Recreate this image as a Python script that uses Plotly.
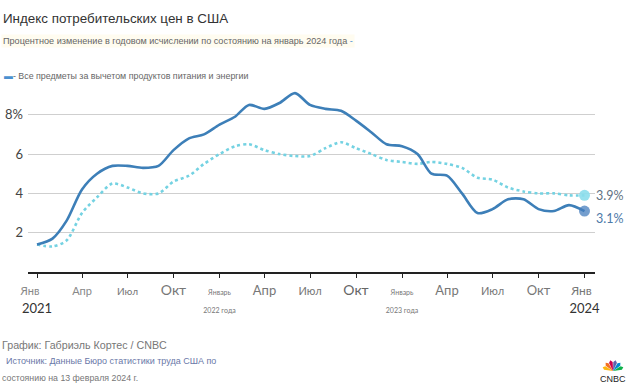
import plotly.graph_objects as go
import pandas as pd
import math

# ---- data ----
months = pd.date_range("2021-01-01", periods=37, freq="MS")
cpi_all = [1.4, 1.7, 2.6, 4.2, 5.0, 5.4, 5.4, 5.3, 5.4, 6.2, 6.8, 7.0,
           7.5, 7.9, 8.5, 8.3, 8.6, 9.1, 8.5, 8.3, 8.2, 7.7, 7.1, 6.5,
           6.4, 6.0, 5.0, 4.9, 4.0, 3.0, 3.2, 3.7, 3.7, 3.2, 3.1, 3.4, 3.1]
cpi_core = [1.4, 1.3, 1.6, 3.0, 3.8, 4.5, 4.3, 4.0, 4.0, 4.6, 4.9, 5.5,
            6.0, 6.4, 6.5, 6.2, 6.0, 5.9, 5.9, 6.3, 6.6, 6.3, 6.0, 5.7,
            5.6, 5.5, 5.6, 5.5, 5.3, 4.8, 4.7, 4.3, 4.1, 4.0, 4.0, 3.9, 3.9]
y_ticks = [2, 4, 6, 8]
y_ticktext = ["2", "4", "6", "8%"]
x_tickvals = pd.date_range("2021-01-01", "2024-01-01", freq="3MS")
NB = "\u00a0"
x_ticktext = [
    "<span style='color:#888;font-size:11px'>Янв" + NB * 5 + "</span><br><span style='font-size:13px;color:#333'>2021</span>",
    "<span style='color:#888;font-size:11px'>Апр</span>",
    "<span style='color:#777;font-size:10px'>Июл</span>",
    "<span style='color:#777;font-size:14px'>Окт</span>",
    "<span style='color:#777;font-size:7px'>Январь</span><br><span style='color:#777;font-size:7px'>2022 года</span>",
    "<span style='color:#777;font-size:13px'>Апр</span>",
    "<span style='color:#777;font-size:11px'>Июл</span>",
    "<span style='color:#666;font-size:14px'>Окт</span>",
    "<span style='color:#777;font-size:7px'>Январь</span><br><span style='color:#777;font-size:7px'>2023 года</span>",
    "<span style='color:#777;font-size:13px'>Апр</span>",
    "<span style='color:#777;font-size:11px'>Июл</span>",
    "<span style='color:#777;font-size:13px'>Окт</span>",
    "<span style='color:#777;font-size:12px'>Янв" + NB * 2 + "</span><br><span style='font-size:13px;color:#333'>2024</span>",
]

W, H = 640, 391
L, R, T, B = 28, 45, 90, 119
PW, PH = W - L - R, H - T - B


def px(x):
    return (x - L) / PW


def py(y):
    return (H - B - y) / PH


SOLID = "#3d7fb8"
DOT = "#74d2e2"

fig = go.Figure()
fig.add_trace(go.Scatter(x=months, y=cpi_core, mode="lines",
                         line=dict(color=DOT, width=2.6, dash="dot", shape="spline", smoothing=0.8),
                         showlegend=False, hoverinfo="skip"))
fig.add_trace(go.Scatter(x=months, y=cpi_all, mode="lines",
                         line=dict(color=SOLID, width=2.6, shape="spline", smoothing=0.8),
                         showlegend=False, hoverinfo="skip"))
fig.add_trace(go.Scatter(x=[months[-1]], y=[cpi_core[-1]], mode="markers",
                         marker=dict(color="rgba(140,222,236,0.9)", size=11),
                         showlegend=False, hoverinfo="skip"))
fig.add_trace(go.Scatter(x=[months[-1]], y=[cpi_all[-1]], mode="markers",
                         marker=dict(color="rgba(70,125,190,0.75)", size=11),
                         showlegend=False, hoverinfo="skip"))

annotations = [
    dict(text="Индекс потребительских цен в США", x=px(1), y=py(18), xanchor="left", yanchor="middle",
         font=dict(family="Liberation Sans, Arial", size=13.4, color="#333")),
    dict(text="Процентное изменение в годовом исчислении по состоянию на январь 2024 года <span style='color:#4a90d0'>-</span>",
         x=px(1), y=py(41), xanchor="left", yanchor="middle", bgcolor="#fffcf0",
         font=dict(family="Liberation Sans, Arial", size=9.1, color="#666")),
    dict(text="<span style='color:#4a90d0'>▬</span>- Все предметы за вычетом продуктов питания и энергии",
         x=px(2), y=py(76), xanchor="left", yanchor="middle",
         font=dict(family="Liberation Sans, Arial", size=8.9, color="#666")),
    dict(text="3.9%", x=months[-1], y=cpi_core[-1], xref="x", yref="y", xanchor="left", yanchor="middle",
         xshift=9, font=dict(family="Lato, Open Sans", size=12.5, color="#5f7283")),
    dict(text="3.1%", x=months[-1], y=cpi_all[-1], xref="x", yref="y", xanchor="left", yanchor="middle",
         xshift=9, yshift=-7, font=dict(family="Lato, Open Sans", size=12.5, color="#4d79a8")),
    dict(text="График: Габриэль Кортес / CNBC", x=px(0), y=py(345), xanchor="left", yanchor="middle",
         font=dict(family="Liberation Sans, Arial", size=10.7, color="#777")),
    dict(text="Источник: Данные Бюро статистики труда США по", x=px(4), y=py(361), xanchor="left", yanchor="middle",
         font=dict(family="Liberation Sans, Arial", size=9, color="#6a78a8")),
    dict(text="состоянию на 13 февраля 2024 г.", x=px(0), y=py(378), xanchor="left", yanchor="middle",
         font=dict(family="Liberation Sans, Arial", size=8.8, color="#777")),
    dict(text="CNBC", x=px(613), y=py(379), xanchor="center", yanchor="middle",
         font=dict(family="Liberation Sans, Arial", size=9, color="#222")),
]
for a in annotations:
    a.setdefault("xref", "paper")
    a.setdefault("yref", "paper")
    a["showarrow"] = False

# CNBC peacock (decoration)
shapes = []
cx, cy = 613, 371
petal_colors = ["#fcb711", "#f37021", "#cc004c", "#6460aa", "#0089d0", "#0db14b"]
for i, c in enumerate(petal_colors):
    ang = math.radians(160 - i * 28)
    tip = (cx + 11 * math.cos(ang), cy - 11 * math.sin(ang))
    pa = ang + math.radians(12)
    pb = ang - math.radians(12)
    l1 = (cx + 9 * math.cos(pa), cy - 9 * math.sin(pa))
    r1 = (cx + 9 * math.cos(pb), cy - 9 * math.sin(pb))
    path = "M {} {} L {} {} L {} {} L {} {} Z".format(
        px(cx), py(cy), px(l1[0]), py(l1[1]), px(tip[0]), py(tip[1]), px(r1[0]), py(r1[1]))
    shapes.append(dict(type="path", path=path, xref="paper", yref="paper",
                       fillcolor=c, line=dict(width=0)))

fig.update_layout(
    width=W, height=H,
    margin=dict(l=L, r=R, t=T, b=B, autoexpand=False),
    paper_bgcolor="white", plot_bgcolor="white",
    annotations=annotations, shapes=shapes,
    xaxis=dict(range=["2020-12-14", "2024-01-22"], tickvals=x_tickvals, ticktext=x_ticktext,
               showgrid=False, showline=True, linecolor="#222", linewidth=1.5,
               ticks="outside", ticklen=4, tickcolor="#222", tickwidth=1, automargin=False,
               tickfont=dict(family="Lato, Open Sans", size=14, color="#777"), zeroline=False),
    yaxis=dict(range=[0, 9.26], tickvals=y_ticks, ticktext=y_ticktext, showgrid=True,
               gridcolor="#cfcfcf", gridwidth=1, zeroline=False, showline=False, automargin=False,
               tickfont=dict(family="Lato, Open Sans", size=13, color="#444"), ticklabelstandoff=4),
)

fig.write_html("out.html", config={"displayModeBar": False},
               post_script="document.body.style.margin='0';document.body.style.overflow='hidden';")
